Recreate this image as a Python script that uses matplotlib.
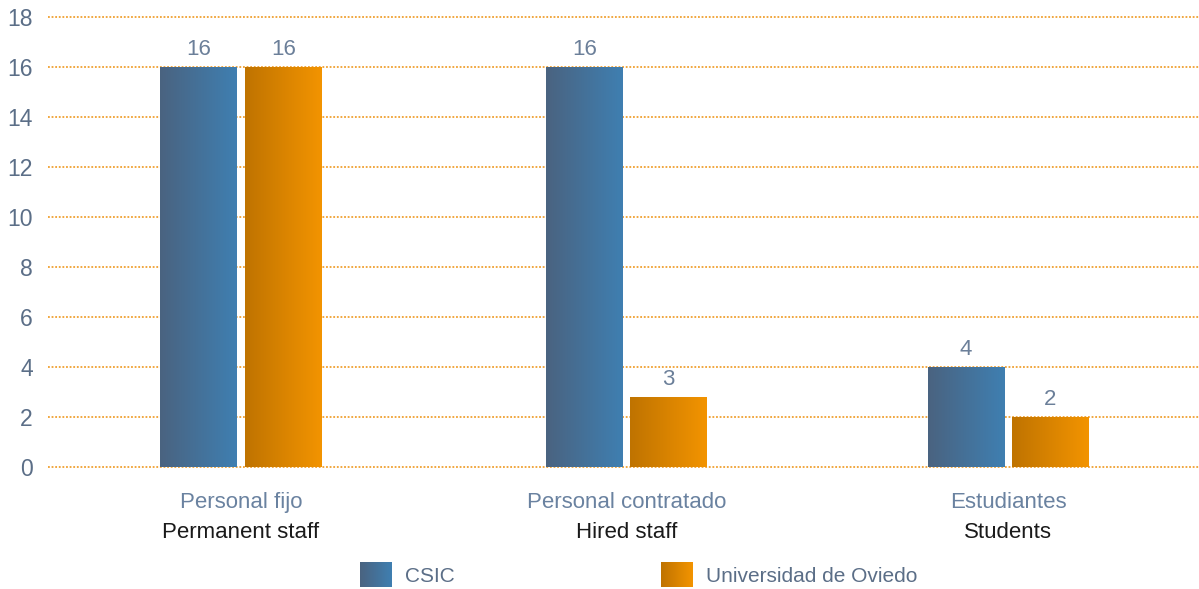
import numpy as np
import matplotlib.pyplot as plt
from matplotlib.colors import LinearSegmentedColormap

categories_es = ['Personal fijo', 'Personal contratado', 'Estudiantes']
categories_en = ['Permanent staff', 'Hired staff', 'Students']
series = ['CSIC', 'Universidad de Oviedo']
csic = [16, 16, 4]
oviedo = [16, 2.8, 2]
yticks = [0, 2, 4, 6, 8, 10, 12, 14, 16, 18]

cmaps = [LinearSegmentedColormap.from_list('csic', ['#4a6380', '#3f7fb1']),
         LinearSegmentedColormap.from_list('uo', ['#bf7300', '#f39400'])]
grad = np.linspace(0, 1, 256).reshape(1, -1)

plt.rcParams['font.family'] = ['Liberation Sans', 'DejaVu Sans']
tick_col = '#5b6e87'
grid_col = '#f0a030'

fig = plt.figure(figsize=(11.99, 5.89), dpi=100)
ax = fig.add_axes([48/1199, 122/589, 1 - 48/1199, 450/589])

x = np.array([0.003, 1.008, 2.003])
w = 0.2
off = 0.11
for vals, sign, cm in [(csic, -1, cmaps[0]), (oviedo, 1, cmaps[1])]:
    bars = ax.bar(x + sign*off, vals, w, color='none', zorder=3)
    for b, v in zip(bars, vals):
        x0 = b.get_x()
        ax.imshow(grad, cmap=cm, aspect='auto', zorder=3,
                  extent=[x0, x0 + b.get_width(), 0, v])
        ax.annotate('{:.0f}'.format(v), (x0 + b.get_width()/2, v),
                    xytext=(0, 5), textcoords='offset points',
                    ha='center', va='bottom', fontsize=16, color='#6b7f99')

ax.set_xlim(-0.5, 2.5)
ax.set_ylim(0, 18)
ax.set_yticks(yticks)
ax.set_xticks([])
ax.grid(axis='y', color=grid_col, linestyle=(0, (1, 1)), linewidth=1.3, zorder=0)
for gl in ax.get_ygridlines():
    gl.set_clip_on(False)
for s in ax.spines.values():
    s.set_visible(False)
ax.tick_params(axis='y', length=0, pad=11, labelsize=16.5, labelcolor=tick_col)

tr = ax.get_xaxis_transform()
for i in range(len(x)):
    ax.text(x[i], -0.078, categories_es[i], transform=tr, ha='center',
            va='center', fontsize=16, color='#6a82a0')
    ax.text(x[i], -0.145, categories_en[i], transform=tr, ha='center',
            va='center', fontsize=16, color='#1a1a1a')

# legend with gradient swatches
for px, name, cm in [(360, series[0], cmaps[0]), (661, series[1], cmaps[1])]:
    sw = fig.add_axes([px/1199, 2/589, 32/1199, 25/589])
    sw.imshow(grad, cmap=cm, aspect='auto')
    sw.axis('off')
    fig.text((px + 45)/1199, 12/589, name, ha='left', va='center',
             fontsize=15, color=tick_col)

fig.savefig('out.png', dpi=100)
